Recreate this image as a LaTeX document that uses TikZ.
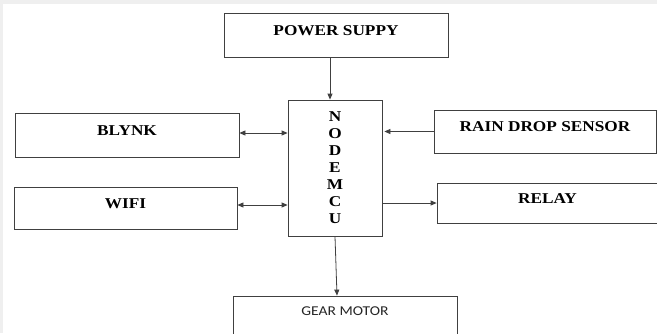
\documentclass[tikz,border=0pt]{standalone}
\usepackage{fontspec}
\setmainfont{Liberation Serif}
\newfontfamily\blockfont[FakeStretch=1.15]{Liberation Serif}
\newfontfamily\motorfont[FakeStretch=1.15]{Carlito}
\usetikzlibrary{arrows.meta,positioning}
\definecolor{linegray}{HTML}{404040}
\definecolor{edgegray}{HTML}{EFEFEF}

\begin{document}
\begin{tikzpicture}[
		x=1pt,y=-1pt,
		>={Triangle[length=6pt,width=5pt]},
		frame/.style={draw=linegray, line width=0.8pt, inner sep=0pt,
			font=\blockfont\bfseries\fontsize{15}{17}\selectfont},
		block/.style={frame, minimum width=224pt, minimum height=44pt,
			text height=10pt, text depth=10pt},
		link/.style={draw=linegray, line width=0.8pt}
		]
		
		\useasboundingbox (0,0) rectangle (657,333);
		\fill[edgegray] (0,0) rectangle (657,333);
		\fill[white] (3,4) rectangle (657,333);
		\clip (0,0) rectangle (657,333);
		
		% =========================
		% Controller and supply
		% =========================
		\node[block] (ps) at (336,35) {POWER SUPPY};
		\node[frame, minimum width=94pt, minimum height=136pt, align=center] (mcu) at (335,168)
		{N\\O\\D\\E\\M\\C\\U};
		
		% =========================
		% Left: cloud side
		% =========================
		\node[block] (blynk) at (127,135) {BLYNK};
		\node[block, minimum width=223pt, minimum height=42pt] (wifi) at (125.5,208) {WIFI};
		
		% =========================
		% Right: sensor and relay
		% =========================
		\node[block, minimum width=222pt, minimum height=43pt] (rain) at (545,131.5) {RAIN DROP SENSOR};
		\node[block, minimum width=221pt, minimum height=40pt] (relay) at (547.5,203) {RELAY};
		
		% =========================
		% Bottom: motor
		% =========================
		\node[block, text height=8pt, text depth=13pt,
		font=\motorfont\fontsize{13.5}{16}\selectfont, text=black!85] (gear) at (345,318) {GEAR MOTOR};
		
		% connections
		\draw[link,->] ([xshift=-6pt]ps.south) -- ([xshift=-5pt]mcu.north);
		\draw[link,<->] ([yshift=2pt]blynk.east) -- ([yshift=2pt]blynk.east -| mcu.west);
		\draw[link,<->] ([yshift=3pt]wifi.east) -- ([yshift=3pt]wifi.east -| mcu.west);
		\draw[link,->, shorten >=2pt] (rain.west) -- (rain.west -| mcu.east);
		\draw[link,->] (relay.west -| mcu.east) -- (relay.west);
		\draw[link,->] (mcu.south) -- ([xshift=-8pt]gear.north);
		
	\end{tikzpicture}
\end{document}
